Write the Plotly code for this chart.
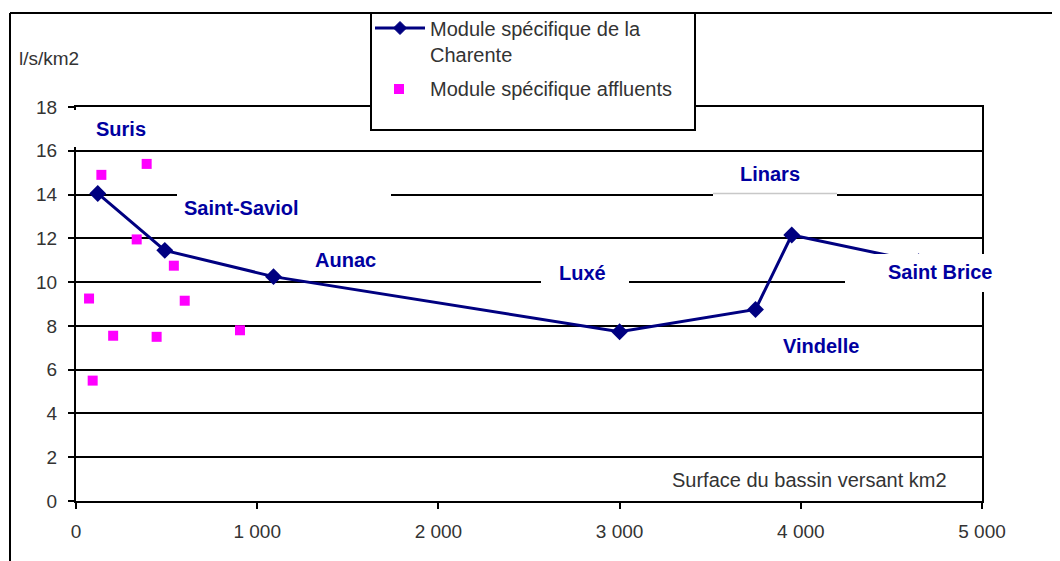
import plotly.graph_objects as go

# Module spécifique (l/s/km2) vs surface du bassin versant (km2)
charente_area   = [120, 490, 1090, 3000, 3750, 3950, 4650]
charente_module = [14.05, 11.45, 10.25, 7.73, 8.75, 12.15, 10.93]

affluent_area   = [72, 92, 140, 205, 335, 390, 445, 540, 600, 905]
affluent_module = [9.25, 5.5, 14.9, 7.55, 11.95, 15.4, 7.5, 10.75, 9.15, 7.8]

x_tickvals = [0, 1000, 2000, 3000, 4000, 5000]
x_ticktext = ["0", "1 000", "2 000", "3 000", "4 000", "5 000"]

CHARENTE_NAME = "Module spécifique de la<br>Charente"
AFFLUENT_NAME = "Module spécifique affluents"

# station labels: (text, pixel x, pixel y) in screen coordinates
stations = [
    ("Suris",        121, 129),
    ("Saint-Saviol", 241, 208),
    ("Aunac",        345, 260),
    ("Luxé",         582, 273),
    ("Linars",       770, 174),
    ("Saint Brice",  940, 272),
    ("Vindelle",     821, 346),
]

# the page body has an 8px margin, so the figure sits at (8, 8) on screen
OFF = 8
W, H = 1060 - OFF, 561 - OFF
L, R, T, B = 76 - OFF, 78, 107 - OFF, 60   # plot area on screen: x 76..982, y 107..501
FONT = "Arial, Liberation Sans, sans-serif"
GREY_TXT = "#333333"
NAVY = "#000080"
MAGENTA = "#ff00ff"
LABEL_BLUE = "#0000a0"


def px(x):
    """screen pixel x -> paper x"""
    return (x - OFF - L) / (W - L - R)


def py(y):
    """screen pixel y -> paper y"""
    return (H - B - (y - OFF)) / (H - T - B)


fig = go.Figure()

fig.add_trace(go.Scatter(
    x=charente_area, y=charente_module,
    mode="lines+markers",
    name=CHARENTE_NAME,
    line=dict(color=NAVY, width=3),
    marker=dict(symbol="diamond", size=13, color=NAVY),
))
fig.add_trace(go.Scatter(
    x=affluent_area, y=affluent_module,
    mode="markers",
    name=AFFLUENT_NAME,
    marker=dict(symbol="square", size=10, color=MAGENTA),
))

shapes = []
# outer frame (top + left)
shapes.append(dict(type="line", xref="paper", yref="paper",
                   x0=px(10), x1=px(1062), y0=py(13), y1=py(13),
                   line=dict(color="black", width=2), layer="above"))
shapes.append(dict(type="line", xref="paper", yref="paper",
                   x0=px(10), x1=px(10), y0=py(13), y1=py(563),
                   line=dict(color="black", width=2), layer="above"))

# white boxes behind the labels, hiding bits of grid like Excel does
covers = [
    (73, 170, 110, 147),    # Suris
    (177, 391, 188, 228),   # Saint-Saviol
    (541, 629, 258, 290),   # Luxé
    (713, 837, 158, 196),   # Linars
    (845, 996, 254, 292),   # Saint Brice
]
for x0, x1, y0, y1 in covers:
    shapes.append(dict(type="rect", xref="paper", yref="paper",
                       x0=px(x0), x1=px(x1), y0=py(y0), y1=py(y1),
                       fillcolor="white", line=dict(width=0), layer="above"))
# faint edge of the Linars box left on the 14 gridline
shapes.append(dict(type="line", xref="paper", yref="paper",
                   x0=px(713), x1=px(837), y0=py(193.5), y1=py(193.5),
                   line=dict(color="#c8c8c8", width=1.5), layer="above"))

# legend box, drawn by hand so the layout matches the Excel one
shapes.append(dict(type="rect", xref="paper", yref="paper",
                   x0=px(371), x1=px(695), y0=py(13), y1=py(130),
                   fillcolor="white", line=dict(color="black", width=2),
                   layer="above"))
shapes.append(dict(type="line", xref="paper", yref="paper",
                   x0=px(375), x1=px(425), y0=py(28), y1=py(28),
                   line=dict(color=NAVY, width=3), layer="above"))
cx, cy, d = 400, 28, 6.5
shapes.append(dict(type="path", xref="paper", yref="paper",
                   path=(f"M {px(cx - d)} {py(cy)} L {px(cx)} {py(cy - d)} "
                         f"L {px(cx + d)} {py(cy)} L {px(cx)} {py(cy + d)} Z"),
                   fillcolor=NAVY, line=dict(color=NAVY, width=1), layer="above"))
shapes.append(dict(type="rect", xref="paper", yref="paper",
                   x0=px(394), x1=px(404), y0=py(84), y1=py(94),
                   fillcolor=MAGENTA, line=dict(width=0), layer="above"))

annotations = [
    dict(text=name, x=px(xp), y=py(yp), xref="paper", yref="paper",
         showarrow=False, xanchor="center", yanchor="middle",
         font=dict(family=FONT, size=20, color=LABEL_BLUE, weight="bold"))
    for name, xp, yp in stations
]
legend_lines = CHARENTE_NAME.split("<br>") + [AFFLUENT_NAME]
for text, yp in zip(legend_lines, [29, 55, 89]):
    annotations.append(dict(
        text=text, x=px(428), y=py(yp), xref="paper", yref="paper",
        showarrow=False, xanchor="left", yanchor="middle",
        font=dict(family=FONT, size=20, color=GREY_TXT)))
annotations.append(dict(
    text="l/s/km2", x=px(17), y=py(58), xref="paper", yref="paper",
    showarrow=False, xanchor="left", yanchor="middle",
    font=dict(family=FONT, size=19, color=GREY_TXT)))
annotations.append(dict(
    text="Surface du bassin versant km2", x=px(809), y=py(480),
    xref="paper", yref="paper", showarrow=False,
    xanchor="center", yanchor="middle",
    font=dict(family=FONT, size=20, color=GREY_TXT)))

fig.update_layout(
    width=W, height=H,
    margin=dict(l=L, r=R, t=T, b=B, pad=0),
    paper_bgcolor="white",
    plot_bgcolor="white",
    font=dict(family=FONT, size=19, color=GREY_TXT),
    showlegend=False,
    shapes=shapes,
    annotations=annotations,
)

fig.update_xaxes(
    range=[0, 5000],
    tickvals=x_tickvals, ticktext=x_ticktext,
    showgrid=False, zeroline=False,
    showline=True, linecolor="black", linewidth=2, mirror=True,
    ticks="outside", ticklen=6, tickwidth=2, tickcolor="black",
    ticklabelstandoff=6,
)
fig.update_yaxes(
    range=[0, 18], dtick=2,
    showgrid=True, gridcolor="black", gridwidth=2,
    zeroline=False,
    showline=True, linecolor="black", linewidth=2, mirror=True,
    ticks="outside", ticklen=6, tickwidth=2, tickcolor="black",
    ticklabelstandoff=7,
)

fig.write_html("out.html")
